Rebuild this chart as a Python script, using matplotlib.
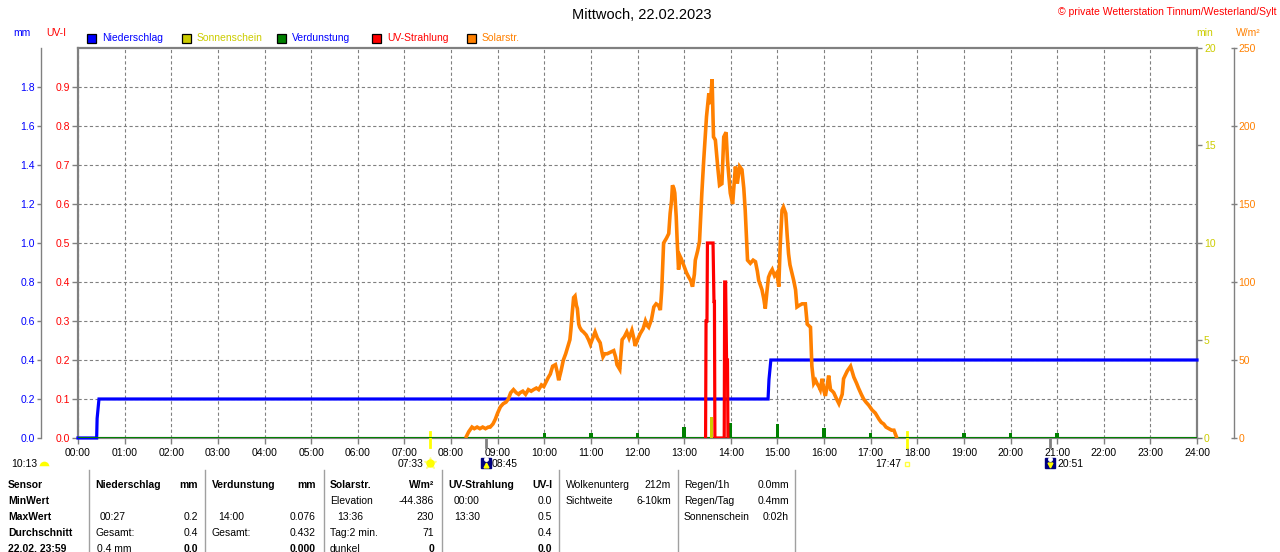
import matplotlib
matplotlib.use('Agg')
import matplotlib.pyplot as plt
from matplotlib.patches import Rectangle
from matplotlib.lines import Line2D
from matplotlib.transforms import blended_transform_factory

plt.rcParams['font.family'] = ['Liberation Sans', 'DejaVu Sans']

W, H = 1280, 552

# ---------------- data ----------------
hours = list(range(25))
hour_labels = [f"{h:02d}:00" for h in hours]

solar_t = [8.33, 8.38, 8.45, 8.50, 8.56, 8.62, 8.68, 8.74, 8.80, 8.84, 8.90, 8.95, 9.00, 9.06,
           9.12, 9.18, 9.23, 9.28, 9.34, 9.40, 9.45, 9.48, 9.54, 9.60, 9.66, 9.72, 9.77, 9.83,
           9.88, 9.94, 9.99, 10.04, 10.09, 10.13, 10.18, 10.24, 10.28, 10.31, 10.36, 10.41,
           10.46, 10.52, 10.55, 10.57, 10.60, 10.63, 10.66, 10.69, 10.71, 10.74, 10.76, 10.80,
           10.84, 10.90, 10.95, 10.99, 11.04, 11.09, 11.14, 11.20, 11.23, 11.26, 11.30, 11.35,
           11.42, 11.49, 11.53, 11.56, 11.60, 11.62, 11.65, 11.67, 11.72, 11.77, 11.82, 11.88,
           11.92, 11.95, 12.00, 12.06, 12.12, 12.17, 12.21, 12.24, 12.30, 12.35, 12.40, 12.45,
           12.49, 12.52, 12.54, 12.56, 12.62, 12.67, 12.70, 12.73, 12.75, 12.78, 12.80, 12.83,
           12.85, 12.88, 12.92, 12.95, 13.00, 13.05, 13.10, 13.14, 13.18, 13.22, 13.24, 13.29,
           13.33, 13.38, 13.42, 13.48, 13.53, 13.56, 13.60, 13.63, 13.67, 13.72, 13.76, 13.81,
           13.85, 13.90, 13.93, 13.99, 14.04, 14.10, 14.14, 14.19, 14.24, 14.28, 14.31, 14.36,
           14.42, 14.48, 14.53, 14.57, 14.60, 14.67, 14.71, 14.74, 14.78, 14.81, 14.85, 14.89,
           14.94, 14.99, 15.03, 15.06, 15.10, 15.13, 15.18, 15.21, 15.24, 15.27, 15.31, 15.35,
           15.39, 15.42, 15.47, 15.53, 15.60, 15.64, 15.71, 15.74, 15.78, 15.82, 15.85, 15.89,
           15.92, 15.96, 16.00, 16.03, 16.07, 16.10, 16.14, 16.18, 16.21, 16.27, 16.32, 16.39,
           16.42, 16.50, 16.57, 16.64, 16.70, 16.74, 16.80, 16.85, 16.90, 16.96, 17.03, 17.10,
           17.14, 17.18, 17.23, 17.28, 17.33, 17.39, 17.45, 17.50, 17.55]
solar_v = [1, 4, 7, 6, 7, 6, 7, 6, 7, 7, 9, 12, 16, 20,
           22, 23, 25, 29, 31, 29, 28, 29, 30, 28, 31, 30, 31, 32,
           31, 34, 33, 36, 39, 41, 46, 47, 42, 37, 43, 50,
           54, 60, 63, 69, 80, 90, 91, 85, 83, 73, 71, 69,
           68, 66, 63, 60, 64, 68, 64, 61, 56, 52, 54, 54,
           55, 56, 52, 47, 45, 44, 55, 63, 65, 68, 64, 69,
           64, 59, 63, 67, 70, 75, 72, 71, 76, 84, 86, 85,
           82, 95, 110, 125, 128, 131, 144, 152, 162, 160, 157, 142,
           127, 108, 116, 114, 110, 106, 103, 101, 97, 105, 114, 120,
           126, 157, 178, 206, 221, 214, 230, 193, 191, 174, 162, 163,
           193, 196, 178, 157, 150, 174, 163, 174, 172, 160, 146, 114,
           112, 114, 113, 107, 101, 95, 89, 83, 95, 103, 106, 108,
           104, 106, 97, 123, 146, 148, 144, 130, 118, 111, 106, 101,
           95, 84, 85, 86, 86, 73, 71, 46, 35, 37, 35, 33,
           31, 38, 30, 27, 34, 40, 31, 30, 29, 25, 22, 28,
           38, 43, 46, 39, 35, 32, 28, 25, 23, 21, 18, 16,
           14, 12, 10, 9, 7, 6, 5, 5, 1]

rain_t = [0.0, 0.40, 0.41, 0.45, 14.80, 14.82, 14.86, 24.0]
rain_v = [0.0, 0.0, 0.1, 0.2, 0.2, 0.3, 0.4, 0.4]

evap_t = [10, 11, 12, 13, 14, 15, 16, 17, 19, 20, 21]
evap_v = [0.027, 0.027, 0.027, 0.054, 0.076, 0.070, 0.052, 0.027, 0.024, 0.024, 0.024]

uv_t = [13.46, 13.47, 13.49, 13.50, 13.62, 13.64, 13.65, 13.66, 13.86, 13.87, 13.89, 13.91, 13.93, 13.94]
uv_v = [0.0, 0.3, 0.3, 0.5, 0.5, 0.35, 0.35, 0.0, 0.0, 0.4, 0.4, 0.2, 0.2, 0.0]

sun_t = [13.585]
sun_v = [1.1]

mm_ticks = [0.0, 0.2, 0.4, 0.6, 0.8, 1.0, 1.2, 1.4, 1.6, 1.8]
uv_ticks = [0.0, 0.1, 0.2, 0.3, 0.4, 0.5, 0.6, 0.7, 0.8, 0.9]
sun_ticks = [0, 5, 10, 15, 20]
wm_ticks = [0, 50, 100, 150, 200, 250]

sunrise_t, sunset_t = 7.55, 17.783
moonrise_t, moonset_t = 8.75, 20.85
sunrise_lbl, sunset_lbl = "07:33", "17:47"
moonrise_lbl, moonset_lbl = "08:45", "20:51"
daylen_lbl = "10:13"

title = "Mittwoch, 22.02.2023"
copyright_txt = "© private Wetterstation Tinnum/Westerland/Sylt"

legend_items = [("Niederschlag", "#0000FF", "#0000FF"),
                ("Sonnenschein", "#CCCC00", "#CCCC00"),
                ("Verdunstung", "#008000", "#0000FF"),
                ("UV-Strahlung", "#FF0000", "#FF0000"),
                ("Solarstr.", "#FF8000", "#FF8000")]

table_rows = ["Sensor", "MinWert", "MaxWert", "Durchschnitt", "22.02. 23:59"]

# ---------------- colours ----------------
BLUE = "#0000FF"
RED = "#FF0000"
YEL = "#CCCC00"
ORA = "#FF8000"
GRN = "#008000"
GRY = "#808080"

fig = plt.figure(figsize=(W / 100, H / 100), dpi=100)
fig.patch.set_facecolor("white")


def fx(x):
    return x / W


def fy(y):
    return 1 - y / H


ax = fig.add_axes([fx(78), fy(438), 1119 / W, 390 / H])
ax.set_xlim(0, 24)
ax.set_ylim(0, 1)
ax.set_xticks(hours)
ax.set_xticklabels(hour_labels)
ax.tick_params(axis='x', length=4, width=1, color=GRY, pad=3, labelsize=7.5, direction='out')
ax.set_yticks(uv_ticks)
ax.set_yticklabels([f"{v:.1f}" for v in uv_ticks])
ax.tick_params(axis='y', length=4, width=1, color=GRY, pad=1.5, labelsize=7.5, labelcolor=RED, direction='out')
ax.grid(True, color=GRY, linestyle=(0, (2.9, 2.2)), linewidth=0.8)
for s in ax.spines.values():
    s.set_color(GRY)
    s.set_linewidth(1.6)

# mm axis (left, outer)
ax_mm = ax.twinx()
ax_mm.set_ylim(0, 2)
ax_mm.yaxis.set_ticks_position('left')
ax_mm.spines['left'].set_position(('axes', -37 / 1119))
for k in ['right', 'top', 'bottom']:
    ax_mm.spines[k].set_visible(False)
ax_mm.spines['left'].set_visible(True)
ax_mm.spines['left'].set_color(GRY)
ax_mm.spines['left'].set_linewidth(1)
ax_mm.set_yticks(mm_ticks)
ax_mm.set_yticklabels([f"{v:.1f}" for v in mm_ticks])
ax_mm.tick_params(axis='y', length=3, width=1, color=GRY, pad=1.5, labelsize=7.5, labelcolor=BLUE)

# sunshine minutes axis (right, frame)
ax_sun = ax.twinx()
ax_sun.set_ylim(0, 20)
for k in ['left', 'right', 'top', 'bottom']:
    ax_sun.spines[k].set_visible(False)
ax_sun.set_yticks(sun_ticks)
ax_sun.set_yticklabels([str(v) for v in sun_ticks])
ax_sun.tick_params(axis='y', length=3.5, width=1, color=GRY, pad=1.5, labelsize=7.5, labelcolor=YEL)

# W/m2 axis (right, outer)
ax_w = ax.twinx()
ax_w.set_ylim(0, 250)
ax_w.spines['right'].set_position(('axes', 1 + 37 / 1119))
for k in ['left', 'top', 'bottom']:
    ax_w.spines[k].set_visible(False)
ax_w.spines['right'].set_color(GRY)
ax_w.spines['right'].set_linewidth(1)
ax_w.set_yticks(wm_ticks)
ax_w.set_yticklabels([str(v) for v in wm_ticks])
ax_w.tick_params(axis='y', length=5, width=1, color=GRY, pad=0.5, labelsize=7.5, labelcolor=ORA, direction='inout')

# UV data axis
ax_uv = ax.twinx()
ax_uv.set_ylim(0, 1)
ax_uv.set_yticks([])
for k in ax_uv.spines:
    ax_uv.spines[k].set_visible(False)

ax.set_zorder(0)
ax_mm.set_zorder(1)
ax_sun.set_zorder(2)
ax_w.set_zorder(3)
ax_uv.set_zorder(4)

# ---------------- data drawing ----------------
ax_mm.plot(rain_t, rain_v, color=BLUE, lw=2.3, solid_joinstyle='miter', clip_on=False)
ax_mm.axhline(0, color=GRN, lw=1.4)
ax_mm.bar(evap_t, evap_v, width=0.075, color=GRN, linewidth=0)
ax_sun.bar(sun_t, sun_v, width=0.075, color=YEL, linewidth=0)
ax_w.plot(solar_t, solar_v, color=ORA, lw=2.6, solid_joinstyle='miter')
ax_uv.plot(uv_t, uv_v, color=RED, lw=2.3, solid_joinstyle='miter')

# ---------------- unit labels ----------------
fs = 7.5
fig.text(fx(22), fy(33), "mm", color=BLUE, fontsize=fs, ha='center', va='center')
fig.text(fx(56), fy(33), "UV-I", color=RED, fontsize=fs, ha='center', va='center')
fig.text(fx(1205), fy(33), "min", color=YEL, fontsize=fs, ha='center', va='center')
fig.text(fx(1248), fy(33), "W/m²", color=ORA, fontsize=fs, ha='center', va='center')

fig.text(fx(642), fy(15), title, color='black', fontsize=10.5, ha='center', va='center')
fig.text(fx(1276), fy(12), copyright_txt, color=RED, fontsize=7.5, ha='right', va='center')

# legend
leg_x = [87, 182, 277, 372, 467]
for (name, fc, tc), x0 in zip(legend_items, leg_x):
    fig.add_artist(Rectangle((fx(x0), fy(43)), 9 / W, 9 / H, transform=fig.transFigure,
                             facecolor=fc, edgecolor='black', linewidth=0.9))
    fig.text(fx(x0 + 15), fy(38), name, color=tc, fontsize=fs, ha='left', va='center')

# ---------------- sun / moon markers ----------------
bt = blended_transform_factory(ax.transData, fig.transFigure)
ax.plot([sunrise_t, sunrise_t], [fy(432), fy(447)], transform=bt, color="#FFFF00", lw=2, clip_on=False, zorder=5)
ax.plot([sunset_t, sunset_t], [fy(432), fy(447)], transform=bt, color="#FFFF00", lw=2, clip_on=False, zorder=5)
ax.plot([moonrise_t, moonrise_t], [fy(438), fy(447)], transform=bt, color=GRY, lw=2, clip_on=False, zorder=5)
ax.plot([moonset_t, moonset_t], [fy(438), fy(447)], transform=bt, color=GRY, lw=2, clip_on=False, zorder=5)

# icons
ax.plot([sunrise_t], [fy(463)], transform=bt, marker='*', markersize=9, color="#FFFF80", clip_on=False, zorder=5)
ax.plot([sunrise_t], [fy(463)], transform=bt, marker='o', markersize=5, color="#FFFF00", clip_on=False, zorder=6)
ax.plot([sunset_t], [fy(464)], transform=bt, marker='s', markersize=3.5, markerfacecolor='none',
        markeredgecolor="#FFFF40", markeredgewidth=1, clip_on=False, zorder=5)
for t, mk in [(moonrise_t, '^'), (moonset_t, 'v')]:
    ax.plot([t], [fy(463)], transform=bt, marker='s', markersize=7, color="#000080", clip_on=False, zorder=5)
    ax.plot([t], [fy(465)], transform=bt, marker=mk, markersize=3.5, color="#FFFF00", clip_on=False, zorder=6)
    ax.plot([t], [fy(459)], transform=bt, marker='o', markersize=2.5, color="white", clip_on=False, zorder=6)

ax.annotate(sunrise_lbl, xy=(sunrise_t, fy(464)), xycoords=bt, xytext=(-7, 0), textcoords='offset pixels',
            ha='right', va='center', fontsize=fs, annotation_clip=False)
ax.annotate(sunset_lbl, xy=(sunset_t, fy(464)), xycoords=bt, xytext=(-6, 0), textcoords='offset pixels',
            ha='right', va='center', fontsize=fs, annotation_clip=False)
ax.annotate(moonrise_lbl, xy=(moonrise_t, fy(464)), xycoords=bt, xytext=(6, 0), textcoords='offset pixels',
            ha='left', va='center', fontsize=fs, annotation_clip=False)
ax.annotate(moonset_lbl, xy=(moonset_t, fy(464)), xycoords=bt, xytext=(7, 0), textcoords='offset pixels',
            ha='left', va='center', fontsize=fs, annotation_clip=False)
fig.text(fx(11), fy(464), daylen_lbl, fontsize=fs, ha='left', va='center')
# half-sun icon next to day length
fig.add_artist(Line2D([fx(44)], [fy(466)], transform=fig.transFigure, marker='o', markersize=7,
                      fillstyle='top', markerfacecolor="#FFFF00", markerfacecoloralt='white',
                      markeredgecolor='none', linestyle='none'))

# ---------------- table ----------------
row_y = [485, 501, 517, 533, 549]
for x in [89, 205, 324, 442, 559, 678, 795]:
    fig.add_artist(Line2D([fx(x), fx(x)], [fy(470), fy(552)], transform=fig.transFigure, color="#A0A0A0", lw=1))

for r, y in zip(table_rows, row_y):
    fig.text(fx(8), fy(y), r, fontsize=fs, fontweight='bold', ha='left', va='center')


def cell(x, y, s, ha='left', bold=False):
    fig.text(fx(x), fy(y), s, fontsize=fs, ha=ha, va='center', fontweight='bold' if bold else 'normal')


# Niederschlag
cell(95, row_y[0], "Niederschlag", bold=True); cell(198, row_y[0], "mm", 'right', True)
cell(100, row_y[2], "00:27"); cell(198, row_y[2], "0.2", 'right')
cell(95, row_y[3], "Gesamt:"); cell(198, row_y[3], "0.4", 'right')
cell(97, row_y[4], "0.4 mm"); cell(198, row_y[4], "0.0", 'right', True)
# Verdunstung
cell(212, row_y[0], "Verdunstung", bold=True); cell(316, row_y[0], "mm", 'right', True)
cell(218, row_y[2], "14:00"); cell(316, row_y[2], "0.076", 'right')
cell(212, row_y[3], "Gesamt:"); cell(316, row_y[3], "0.432", 'right')
cell(316, row_y[4], "0.000", 'right', True)
# Solarstr.
cell(330, row_y[0], "Solarstr.", bold=True); cell(434, row_y[0], "W/m²", 'right', True)
cell(330, row_y[1], "Elevation"); cell(434, row_y[1], "-44.386", 'right')
cell(337, row_y[2], "13:36"); cell(434, row_y[2], "230", 'right')
cell(330, row_y[3], "Tag:2 min."); cell(434, row_y[3], "71", 'right')
cell(330, row_y[4], "dunkel"); cell(434, row_y[4], "0", 'right', True)
# UV
cell(448, row_y[0], "UV-Strahlung", bold=True); cell(552, row_y[0], "UV-I", 'right', True)
cell(454, row_y[1], "00:00"); cell(552, row_y[1], "0.0", 'right')
cell(454, row_y[2], "13:30"); cell(552, row_y[2], "0.5", 'right')
cell(552, row_y[3], "0.4", 'right')
cell(552, row_y[4], "0.0", 'right', True)
# Wolken
cell(566, row_y[0], "Wolkenunterg"); cell(671, row_y[0], "212m", 'right')
cell(566, row_y[1], "Sichtweite"); cell(671, row_y[1], "6-10km", 'right')
# Regen
cell(684, row_y[0], "Regen/1h"); cell(789, row_y[0], "0.0mm", 'right')
cell(684, row_y[1], "Regen/Tag"); cell(789, row_y[1], "0.4mm", 'right')
cell(684, row_y[2], "Sonnenschein"); cell(789, row_y[2], "0:02h", 'right')

fig.savefig("out.png", dpi=100, facecolor='white')
